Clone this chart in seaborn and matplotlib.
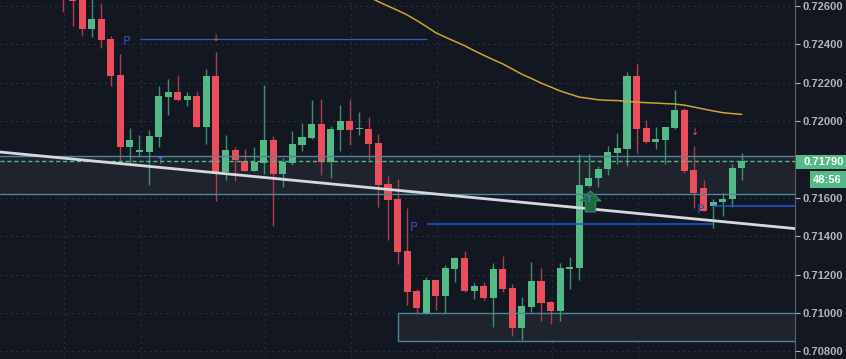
import numpy as np
import pandas as pd
import matplotlib
matplotlib.use("Agg")
import matplotlib.pyplot as plt
import seaborn as sns
from matplotlib.path import Path
from matplotlib.patches import Rectangle
from matplotlib.ticker import FormatStrFormatter

# ---------------- data ----------------
opens = [0.72880, 0.72710, 0.72635, 0.72479, 0.72531, 0.72427, 0.72239, 0.71863, 0.71840, 0.71838,
         0.71916, 0.72124, 0.72150, 0.72109, 0.72130, 0.71968, 0.72234, 0.71734, 0.71848, 0.71791,
         0.71739, 0.71780, 0.71900, 0.71723, 0.71780, 0.71874, 0.71911, 0.71984, 0.71786, 0.71953,
         0.71999, 0.71956, 0.71958, 0.71884, 0.71670, 0.71593, 0.71322, 0.71114, 0.70999, 0.71171,
         0.71088, 0.71228, 0.71286, 0.71114, 0.71140, 0.71078, 0.71228, 0.71130, 0.70921, 0.71030,
         0.71166, 0.71056, 0.71009, 0.71228, 0.71234, 0.71661, 0.71703, 0.71749, 0.71832, 0.71853,
         0.72234, 0.71963, 0.71890, 0.71901, 0.71963, 0.72056, 0.71743, 0.71653, 0.71555, 0.71580,
         0.71591, 0.71754]
highs = [0.72920, 0.72740, 0.72660, 0.72650, 0.72612, 0.72442, 0.72348, 0.71963, 0.71927, 0.71952,
         0.72182, 0.72218, 0.72239, 0.72150, 0.72156, 0.72270, 0.72359, 0.71927, 0.71864, 0.71854,
         0.71864, 0.72186, 0.71921, 0.71806, 0.71947, 0.71989, 0.72109, 0.72114, 0.71973, 0.72083,
         0.72114, 0.72046, 0.72020, 0.71932, 0.71713, 0.71697, 0.71546, 0.71124, 0.71188, 0.71171,
         0.71249, 0.71291, 0.71322, 0.71155, 0.71161, 0.71260, 0.71296, 0.71150, 0.71083, 0.71265,
         0.71233, 0.71060, 0.71260, 0.71291, 0.71828, 0.71828, 0.71765, 0.71869, 0.71936, 0.72255,
         0.72296, 0.72004, 0.71968, 0.71970, 0.72161, 0.72067, 0.71869, 0.71691, 0.71591, 0.71627,
         0.71773, 0.71832]
lows = [0.72567, 0.72494, 0.72444, 0.72438, 0.72381, 0.72182, 0.71781, 0.71781, 0.71812, 0.71666,
        0.71864, 0.72031, 0.72104, 0.72078, 0.71968, 0.71880, 0.71583, 0.71692, 0.71687, 0.71739,
        0.71739, 0.71723, 0.71453, 0.71656, 0.71770, 0.71843, 0.71905, 0.71718, 0.71703, 0.71843,
        0.71874, 0.71927, 0.71796, 0.71553, 0.71380, 0.71255, 0.71041, 0.70999, 0.70995, 0.71014,
        0.70999, 0.71160, 0.71109, 0.71072, 0.71067, 0.70927, 0.71109, 0.70880, 0.70859, 0.71004,
        0.70957, 0.70942, 0.70958, 0.71124, 0.71171, 0.71655, 0.71656, 0.71718, 0.71776, 0.71765,
        0.71832, 0.71885, 0.71853, 0.71776, 0.71960, 0.71729, 0.71546, 0.71533, 0.71441, 0.71507,
        0.71549, 0.71692]
closes = [0.72710, 0.72624, 0.72479, 0.72531, 0.72421, 0.72234, 0.71863, 0.71900, 0.71845, 0.71921,
          0.72130, 0.72150, 0.72109, 0.72130, 0.71968, 0.72234, 0.71734, 0.71848, 0.71796, 0.71739,
          0.71786, 0.71900, 0.71723, 0.71786, 0.71880, 0.71916, 0.71984, 0.71786, 0.71958, 0.71999,
          0.71953, 0.71960, 0.71880, 0.71666, 0.71588, 0.71317, 0.71109, 0.71025, 0.71171, 0.71088,
          0.71234, 0.71286, 0.71114, 0.71140, 0.71078, 0.71228, 0.71124, 0.70921, 0.71036, 0.71166,
          0.71051, 0.71009, 0.71234, 0.71239, 0.71666, 0.71703, 0.71749, 0.71838, 0.71859, 0.72234,
          0.71957, 0.71890, 0.71906, 0.71968, 0.72056, 0.71739, 0.71624, 0.71533, 0.71580, 0.71595,
          0.71757, 0.71790]

ma_start = 32
ma_values = [0.72645, 0.72621, 0.72598, 0.72576, 0.72552, 0.72523, 0.72492, 0.72459, 0.72436, 0.72414,
             0.72392, 0.72366, 0.72342, 0.72319, 0.72297, 0.72270, 0.72243, 0.72221, 0.72197, 0.72177,
             0.72156, 0.72140, 0.72124, 0.72117, 0.72110, 0.72107, 0.72106, 0.72102, 0.72098, 0.72095,
             0.72093, 0.72090, 0.72088, 0.72082, 0.72072, 0.72062, 0.72052, 0.72043, 0.72038, 0.72034]

price_ticks = [0.708, 0.710, 0.712, 0.714, 0.716, 0.720, 0.722, 0.724, 0.726]
grid_prices = [0.708, 0.710, 0.712, 0.714, 0.716, 0.718, 0.720, 0.722, 0.724, 0.726]
grid_idx = [0.1, 8.15, 21.1, 30.1, 39.1, 51.15, 60.1]

last_price = 0.71790
countdown = "48:56"

zone_low, zone_high = 0.71619, 0.71817
box_low, box_high, box_start = 0.70855, 0.70998, 35.04

trend_x = [-6.6, 76.6]
trend_y = [0.71838, 0.71439]

# horizontal "P" lines: (start index, end index, price)
p_lines = [(8.05, 38.1, 0.72425, "#2c5cc4", 0.9),
           (38.04, 67.96, 0.71461, "#1f56dc", 1.1),
           (68.0, 76.6, 0.71555, "#1f56dc", 1.1)]
p_labels = [(6.66, 0.72413), (36.65, 0.71446), (66.66, 0.71540)]
down_marks = [(16.0, 0.72432), (66.14, 0.71940)]
up_mark = (10.18, 0.71789)
big_arrow = (55.1, 0.71583)

# ---------------- style ----------------
BG = "#131722"
GREEN = "#53b987"
RED = "#eb4d5c"
ZONE = "#1f232e"
TEAL = "#4a8a98"

sns.set_style("dark", rc={"axes.facecolor": BG, "figure.facecolor": BG})
plt.rcParams["font.family"] = ["Liberation Sans", "DejaVu Sans"]

W, H = 846, 359
fig = plt.figure(figsize=(W / 100, H / 100), dpi=100)
ax = fig.add_axes([0, 0, 795 / W, 1])
ax.set_facecolor(BG)

df = pd.DataFrame({"open": opens, "high": highs, "low": lows, "close": closes})
df["idx"] = np.arange(len(df))
df["up"] = df["close"] >= df["open"]

# grid
ax.hlines(grid_prices, -10, 80, colors="#2a2e3a", lw=0.8, linestyles=(0, (2, 3)), zorder=0.5)
ax.vlines(grid_idx, 0.70, 0.73, colors="#2a2e3a", lw=0.8, linestyles=(0, (2, 3)), zorder=0.5)

# zones (fills under candles)
ax.axhspan(zone_low, zone_high, color=ZONE, zorder=1, lw=0)
ax.add_patch(Rectangle((box_start, box_low), 80, box_high - box_low, fc=ZONE, ec="none", zorder=1))

# candles
wick_col = np.where(df["up"], "#3f8f6b", "#a83e4e")
body_col = np.where(df["up"], GREEN, RED)
ax.vlines(df["idx"], df["low"], df["high"], colors=wick_col, lw=1, zorder=3)
body_h = np.maximum((df["close"] - df["open"]).abs(), 0.00006)
ax.bar(df["idx"], body_h, bottom=np.minimum(df["open"], df["close"]), width=0.74,
       color=body_col, lw=0, zorder=3.5)

# zone edges
ax.axhline(zone_high, color=TEAL, lw=1, zorder=4)
ax.axhline(zone_low, color=TEAL, lw=1, zorder=4)
ax.add_patch(Rectangle((box_start, box_low), 80, box_high - box_low, fc="none", ec=TEAL, lw=1, zorder=4))

# moving average
ma_idx = np.arange(ma_start, ma_start + len(ma_values))
sns.lineplot(x=ma_idx, y=ma_values, ax=ax, color="#d0a52b", lw=1.1, zorder=4)

# trend line
sns.lineplot(x=trend_x, y=trend_y, ax=ax, color="#d6d8de", lw=2.0, zorder=5)

# last price dashed line
ax.axhline(last_price, color=GREEN, lw=1, ls=(0, (3, 2)), zorder=4.5)

# P lines & labels
for x0, x1, p, c, lw in p_lines:
    ax.hlines(p, x0, x1, colors=c, lw=lw, zorder=4.5)
for xi, p in p_labels:
    ax.text(xi, p, "P", color="#2a52b8", fontsize=9, ha="center", va="center",
            family="DejaVu Sans", zorder=6)
for xi, p in down_marks:
    ax.text(xi, p, "\u2193", color="#e0505e", fontsize=7, ha="center", va="center",
            family="DejaVu Sans", zorder=6)
ax.text(up_mark[0], up_mark[1], "\u2191", color="#3a86e8", fontsize=8, ha="center", va="center",
        family="DejaVu Sans", zorder=6)

arrow_path = Path([(0, 1), (1, 0.05), (0.5, 0.05), (0.5, -1), (-0.5, -1), (-0.5, 0.05), (-1, 0.05), (0, 1)],
                  [Path.MOVETO] + [Path.LINETO] * 6 + [Path.CLOSEPOLY])
ax.plot(big_arrow[0], big_arrow[1], marker=arrow_path, ms=15, mfc="#1e6a45", mec="#2f9062",
        mew=0.8, zorder=6)
ax.text(big_arrow[0], big_arrow[1] + 0.00012, "\u2191", color="#3a86e8", fontsize=7.5, ha="center",
        va="center", family="DejaVu Sans", zorder=7)

# axes
ax.set_xlim(-6.59, 76.57)
ax.set_ylim(0.707599, 0.726297)
ax.set_xticks([])
ax.yaxis.tick_right()
ax.set_yticks(price_ticks)
ax.yaxis.set_major_formatter(FormatStrFormatter("%.5f"))
ax.tick_params(axis="y", colors="#b2b5be", labelsize=8, length=3.6, width=0.8, pad=1.5)
for lab in ax.get_yticklabels():
    lab.set_fontweight("bold")
for s in ["top", "left", "bottom"]:
    ax.spines[s].set_visible(False)
ax.spines["right"].set_color("#5d606b")
ax.spines["right"].set_linewidth(0.8)
ax.grid(False)

# last price & countdown labels on the price scale
y_fig = fig.transFigure.inverted().transform(ax.transData.transform((0, last_price)))[1]
fig.patches.append(Rectangle((796 / W, y_fig - 7.5 / H), 50 / W, 14 / H, transform=fig.transFigure,
                             fc=GREEN, ec="none", zorder=10))
fig.text(803 / W, y_fig - 0.5 / H, f"{last_price:.5f}", color="white", fontsize=8, fontweight="bold",
         ha="left", va="center", zorder=11)
fig.patches.append(Rectangle((810 / W, y_fig - 27 / H), 36 / W, 17 / H, transform=fig.transFigure,
                             fc=GREEN, ec="none", zorder=10))
fig.text(813 / W, y_fig - 18.5 / H, countdown, color="white", fontsize=8, fontweight="bold",
         ha="left", va="center", zorder=11)

fig.savefig("out.png", dpi=100, facecolor=BG)
